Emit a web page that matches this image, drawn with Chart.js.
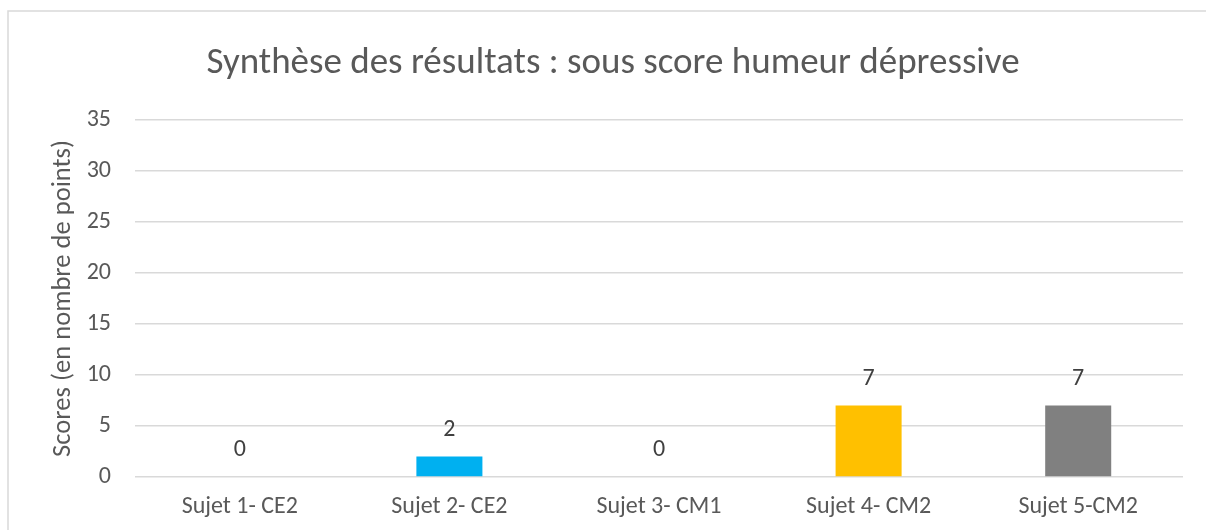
<!DOCTYPE html>
<html><head><meta charset="utf-8">
<script src="https://cdn.jsdelivr.net/npm/chart.js@4/dist/chart.umd.min.js"></script>
<style>html,body{margin:0;padding:0;background:#fff;}#wrap{width:1206px;height:530px;position:relative;}</style>
</head><body><div id="wrap"><canvas id="c" width="1206" height="530"></canvas></div>
<script>
const chartTitle = "Synthèse des résultats : sous score humeur dépressive";
const yAxisTitle = "Scores (en nombre de points)";
const categories = ["Sujet 1- CE2", "Sujet 2- CE2", "Sujet 3- CM1", "Sujet 4- CM2", "Sujet 5-CM2"];
const scores = [0, 2, 0, 7, 7];
const barColors = ["#5B9BD5", "#00B0F0", "#ED7D31", "#FFC000", "#808080"];
const yMin = 0, yMax = 35, yStep = 5;

const FONT = "'Carlito','Open Sans','Noto Sans',sans-serif";

const frame = {
  id: 'frame',
  beforeDraw(chart) {
    const ctx = chart.ctx;
    ctx.save();
    ctx.fillStyle = '#fff';
    ctx.fillRect(0, 0, chart.width, chart.height);
    ctx.strokeStyle = '#d9d9d9';
    ctx.lineWidth = 1.5;
    ctx.beginPath();
    ctx.moveTo(8, 530); ctx.lineTo(8, 11); ctx.lineTo(1206, 11);
    ctx.stroke();
    ctx.restore();
  }
};

const dataLabels = {
  id: 'dataLabels',
  afterDatasetsDraw(chart) {
    const ctx = chart.ctx;
    const meta = chart.getDatasetMeta(0);
    ctx.save();
    ctx.font = "24px " + FONT;
    ctx.fillStyle = '#404040';
    ctx.textAlign = 'center';
    ctx.textBaseline = 'middle';
    meta.data.forEach((bar, i) => {
      ctx.fillText(String(scores[i]), bar.x, bar.y - 27);
    });
    ctx.restore();
  }
};

new Chart(document.getElementById('c'), {
  type: 'bar',
  data: {
    labels: categories,
    datasets: [{
      data: scores,
      backgroundColor: barColors,
      borderWidth: 0,
      barPercentage: 0.315,
      categoryPercentage: 1.0
    }]
  },
  options: {
    responsive: false,
    animation: false,
    devicePixelRatio: 1,
    layout: { padding: { left: 43, right: 23, top: 0, bottom: 0 } },
    plugins: {
      legend: { display: false },
      tooltip: { enabled: false },
      title: {
        display: true,
        text: chartTitle,
        color: '#595959',
        font: { family: FONT, size: 37, weight: 'normal' },
        padding: { top: 42, bottom: 33.6 }
      }
    },
    scales: {
      x: {
        grid: { display: false, drawTicks: false },
        border: { display: false },
        ticks: { color: '#595959', font: { family: FONT, size: 24 }, padding: 15.6, maxRotation: 0, autoSkip: false },
        afterFit(scale) { scale.height = 53; }
      },
      y: {
        min: yMin, max: yMax,
        grid: { color: '#d9d9d9', lineWidth: 1.5, drawTicks: false },
        border: { display: false },
        ticks: { stepSize: yStep, color: '#595959', font: { family: FONT, size: 24 }, padding: 24 },
        title: { display: true, text: yAxisTitle, color: '#595959', font: { family: FONT, size: 26.6, weight: 'normal' }, padding: { top: 4, bottom: 0 } },
        afterFit(scale) { scale.width = 92; }
      }
    }
  },
  plugins: [frame, dataLabels]
});
</script>
</body></html>
